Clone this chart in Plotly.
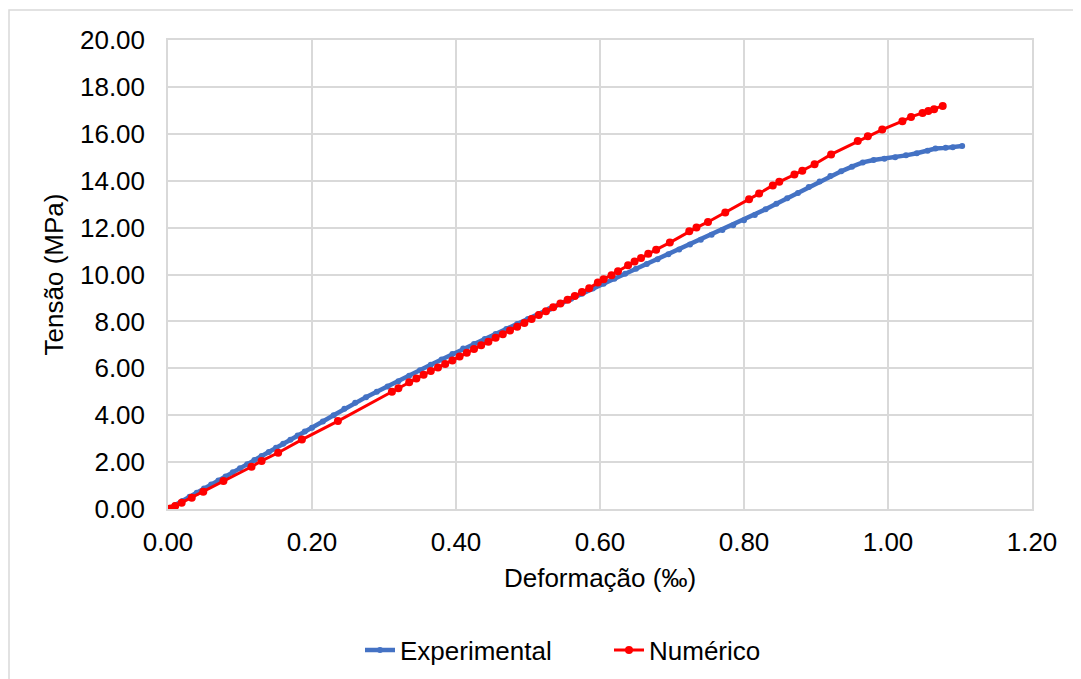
import plotly.graph_objects as go

exp_x = [0.000, 0.010, 0.020, 0.030, 0.040, 0.050, 0.060, 0.070, 0.080, 0.090,
         0.100, 0.110, 0.120, 0.130, 0.140, 0.150, 0.160, 0.170, 0.180, 0.190,
         0.200, 0.215, 0.230, 0.245, 0.260, 0.275, 0.290, 0.305, 0.320, 0.335,
         0.350, 0.365, 0.380, 0.395, 0.410, 0.425, 0.440, 0.455, 0.470, 0.485,
         0.500, 0.515, 0.530, 0.545, 0.560, 0.575, 0.590, 0.605, 0.620, 0.635,
         0.650, 0.665, 0.680, 0.695, 0.710, 0.725, 0.740, 0.755, 0.770, 0.785,
         0.800, 0.815, 0.830, 0.845, 0.860, 0.875, 0.890, 0.905, 0.920, 0.935,
         0.950, 0.965, 0.980, 0.995, 1.010, 1.025, 1.040, 1.055, 1.066, 1.080,
         1.090, 1.103]
exp_y = [0.00, 0.16, 0.34, 0.52, 0.69, 0.87, 1.04, 1.22, 1.39, 1.57,
         1.74, 1.91, 2.09, 2.26, 2.43, 2.61, 2.78, 2.95, 3.13, 3.30,
         3.47, 3.73, 4.00, 4.27, 4.53, 4.77, 5.00, 5.22, 5.45, 5.68,
         5.92, 6.15, 6.38, 6.61, 6.84, 7.04, 7.25, 7.46, 7.68, 7.89,
         8.10, 8.32, 8.53, 8.75, 8.97, 9.18, 9.40, 9.61, 9.82, 10.03,
         10.24, 10.45, 10.65, 10.86, 11.07, 11.28, 11.48, 11.69, 11.90, 12.10,
         12.31, 12.54, 12.78, 13.02, 13.25, 13.48, 13.73, 13.97, 14.20, 14.40,
         14.60, 14.78, 14.88, 14.94, 15.00, 15.08, 15.17, 15.28, 15.37, 15.40,
         15.43, 15.48]

num_x = [0.000, 0.003, 0.010, 0.019, 0.033, 0.049, 0.077, 0.116, 0.130, 0.153,
         0.186, 0.236, 0.311, 0.320, 0.335, 0.345, 0.355, 0.365, 0.375, 0.385,
         0.395, 0.405, 0.415, 0.425, 0.435, 0.445, 0.455, 0.465, 0.475, 0.485,
         0.495, 0.505, 0.515, 0.525, 0.535, 0.545, 0.555, 0.565, 0.575, 0.585,
         0.597, 0.605, 0.616, 0.625, 0.639, 0.648, 0.657, 0.667, 0.678, 0.697,
         0.724, 0.734, 0.750, 0.774, 0.807, 0.821, 0.840, 0.849, 0.870, 0.881,
         0.898, 0.921, 0.958, 0.972, 0.992, 1.020, 1.032, 1.048, 1.056, 1.064,
         1.076]
num_y = [0.00, 0.02, 0.13, 0.27, 0.48, 0.74, 1.19, 1.80, 2.05, 2.40,
         2.96, 3.75, 5.00, 5.15, 5.40, 5.57, 5.73, 5.89, 6.03, 6.18,
         6.33, 6.50, 6.66, 6.82, 6.98, 7.13, 7.30, 7.45, 7.61, 7.77,
         7.93, 8.10, 8.27, 8.43, 8.60, 8.76, 8.92, 9.08, 9.25, 9.41,
         9.66, 9.80, 9.97, 10.14, 10.39, 10.55, 10.70, 10.88, 11.06, 11.36,
         11.84, 12.00, 12.24, 12.64, 13.21, 13.45, 13.80, 13.95, 14.26, 14.42,
         14.70, 15.12, 15.69, 15.90, 16.18, 16.54, 16.72, 16.89, 16.97, 17.05,
         17.19]

x_ticks = [0.0, 0.2, 0.4, 0.6, 0.8, 1.0, 1.2]
y_ticks = [0, 2, 4, 6, 8, 10, 12, 14, 16, 18, 20]

FONT = "Liberation Sans, Arial, sans-serif"
GRID = "#d9d9d9"

fig = go.Figure()
fig.add_trace(go.Scatter(
    x=exp_x, y=exp_y, name="Experimental", mode="lines+markers",
    line=dict(color="#4472C4", width=4.5),
    marker=dict(color="#4472C4", size=6),
))
fig.add_trace(go.Scatter(
    x=num_x, y=num_y, name="Numérico", mode="lines+markers",
    line=dict(color="#FF0000", width=3),
    marker=dict(color="#FF0000", size=8),
))

# page offset of 8px (body margin) compensated
OFF = 8
W, H = 1081, 679
L = 168 - OFF
T = 40 - OFF
R = W - (1032 - OFF)
B = H - (509 - OFF)
pw = W - L - R
ph = H - T - B

def px_x(page_x):
    return (page_x - 168) / pw

def px_y(page_y):
    return (509 - page_y) / ph

fig.update_layout(
    width=W, height=H,
    margin=dict(l=L, r=R, t=T, b=B),
    paper_bgcolor="white", plot_bgcolor="white",
    font=dict(family=FONT, size=26, color="#000000"),
    showlegend=True,
    legend=dict(
        orientation="h", x=px_x(609), xanchor="center",
        y=px_y(650), yanchor="middle",
        font=dict(family=FONT, size=26, color="#000000"),
        entrywidth=204,
    ),
    shapes=[dict(
        type="rect", xref="paper", yref="paper",
        x0=px_x(9), x1=px_x(W + 20),
        y0=px_y(H + 20), y1=px_y(10),
        line=dict(color=GRID, width=1.5), fillcolor="rgba(0,0,0,0)",
        layer="below",
    )],
)

fig.update_xaxes(
    range=[0, 1.2], tickvals=x_ticks, tickformat=".2f",
    showgrid=True, gridcolor=GRID, gridwidth=1.5,
    showline=True, linecolor=GRID, linewidth=1.5, mirror=True,
    zeroline=False, ticks="", ticklabelstandoff=9,
    tickfont=dict(family=FONT, size=26, color="#000000"),
    title=dict(text="Deformação (‰)", standoff=13,
               font=dict(family=FONT, size=26, color="#000000")),
)
fig.update_yaxes(
    range=[0, 20], tickvals=y_ticks, tickformat=".2f",
    showgrid=True, gridcolor=GRID, gridwidth=1.5,
    showline=True, linecolor=GRID, linewidth=1.5, mirror=True,
    zeroline=False, ticks="", ticklabelstandoff=16,
    tickfont=dict(family=FONT, size=26, color="#000000"),
    title=dict(text="Tensão (MPa)", standoff=9,
               font=dict(family=FONT, size=26, color="#000000")),
)

fig.write_html("out.html")
